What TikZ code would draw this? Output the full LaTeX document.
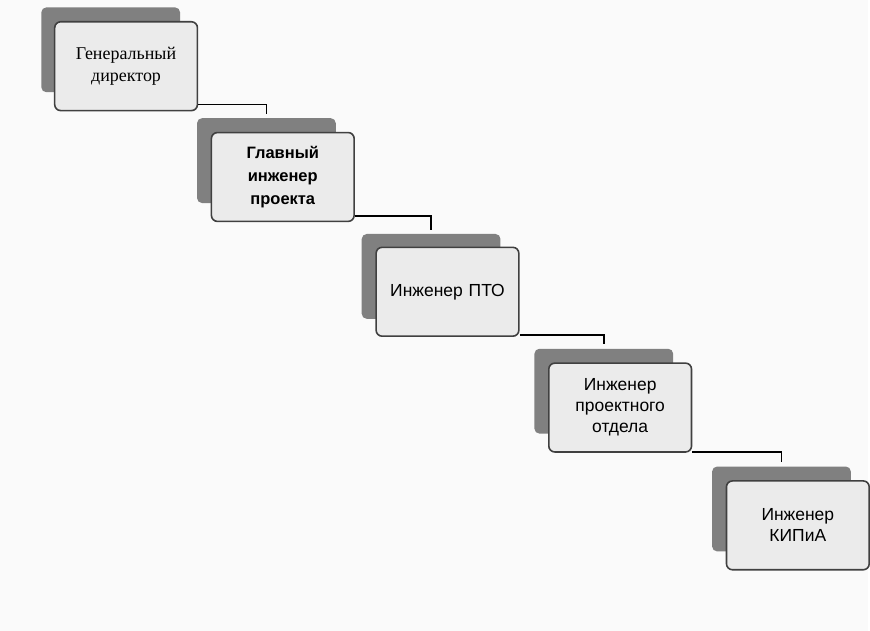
\documentclass[tikz,border=0pt]{standalone}
\usepackage{fontspec}
\setmainfont{Liberation Serif}
\newfontfamily\arialf{Liberation Sans}
\usetikzlibrary{positioning}

\begin{document}
\begin{tikzpicture}[
    x=1pt, y=-1pt,
    thick,
    back/.style={rectangle, rounded corners=5pt, fill=black!50, minimum width=139pt, minimum height=85pt, inner sep=0pt, anchor=north west},
    front/.style={rectangle, rounded corners=6pt, draw=black!75, line width=1.6pt, fill=black!8, minimum width=143pt, minimum height=89pt, text width=132pt, align=center, inner sep=0pt, font=\arialf\fontsize{17.5}{21}\selectfont},
    link/.style={line width=1.8pt, shorten >=4pt}
]
% Background
\fill[black!2] (0,0) rectangle (870,632);

% Back plates
\node[back] (b1) at (41,7) {};
\node[back] (b2) at (197,118) {};
\node[back] (b3) at (362,234) {};
\node[back] (b4) at (535,349) {};
\node[back] (b5) at (713,467) {};

% Posts
\node[front, below right=14pt and 13pt of b1.north west, font=\fontsize{18}{22}\selectfont] (director) {Генеральный\\директор\\[4pt]};
\node[front, below right=14pt and 14pt of b2.north west, font=\arialf\bfseries\fontsize{16.5}{23}\selectfont] (chief) {Главный\\инженер\\проекта};
\node[front, below right=13pt and 14pt of b3.north west] (pto) {Инженер ПТО};
\node[front, below right=14pt and 14pt of b4.north west] (design) {Инженер\\проектного\\отдела};
\node[front, below right=14pt and 14pt of b5.north west] (kip) {Инженер\\КИПиА};

% Links
\draw[link] ([yshift=7pt]director.south east) -| (b2.north);
\draw[link] ([yshift=6pt]chief.south east) -| (b3.north);
\draw[link] ([yshift=2pt]pto.south east) -| (b4.north);
\draw[link] ([yshift=1pt]design.south east) -| (b5.north);
\end{tikzpicture}
\end{document}
